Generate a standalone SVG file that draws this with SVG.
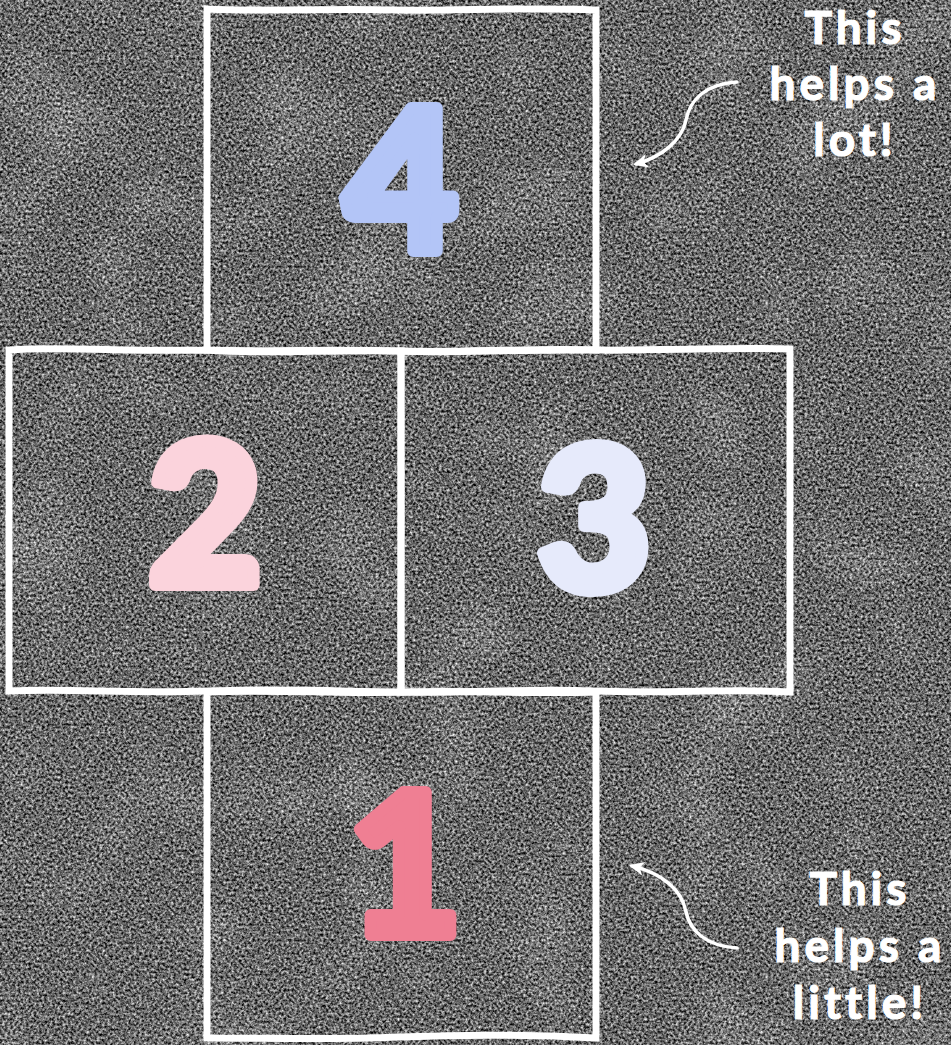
<svg xmlns="http://www.w3.org/2000/svg" width="951" height="1045" viewBox="0 0 951 1045">
  <defs>
    <filter id="asphalt" x="0" y="0" width="951" height="1045" filterUnits="userSpaceOnUse" color-interpolation-filters="sRGB">
      <feTurbulence type="fractalNoise" baseFrequency="0.38" numOctaves="3" seed="7" result="fine"/>
      <feColorMatrix in="fine" type="matrix" values="1.35 0 0 0 -0.27  1.35 0 0 0 -0.27  1.35 0 0 0 -0.27  0 0 0 0 1" result="fg"/>
      <feTurbulence type="fractalNoise" baseFrequency="0.012" numOctaves="2" seed="3" result="coarse"/>
      <feColorMatrix in="coarse" type="matrix" values="0.25 0 0 0 -0.125  0.25 0 0 0 -0.125  0.25 0 0 0 -0.125  0 0 0 0 1" result="cg"/>
      <feComposite in="fg" in2="cg" operator="arithmetic" k1="0" k2="1" k3="1" k4="0"/>
    </filter>
    <marker id="head" markerUnits="userSpaceOnUse" markerWidth="18" markerHeight="16" refX="12" refY="7" orient="auto">
      <path d="M0,0 L15,7 L0,14 L4,7 z" fill="#ffffff"/>
    </marker>
    <style>
      .box { fill: none; stroke: #ffffff; stroke-width: 7; stroke-linejoin: miter; }
      .num { font-family: "Lato", "Liberation Sans", sans-serif; font-weight: 900; text-anchor: middle; font-size: 196px; stroke-width: 12; stroke-linejoin: round; stroke-linecap: round; }
      .note { font-family: "Lato", "Liberation Sans", sans-serif; font-weight: 700; font-size: 46px; fill: #ffffff; stroke: #ffffff; stroke-width: 1.2; text-anchor: middle; letter-spacing: 4px; }
      .arrow { fill: none; stroke: #ffffff; stroke-width: 3.5; stroke-linecap: round; }
    </style>
  </defs>

  <rect x="0" y="0" width="951" height="1045" fill="#5e5e5e" filter="url(#asphalt)"/>

  <g id="box4">
    <path class="box" d="M207,9 C270,12 320,8 400,10 C460,11 520,7 596,10 L596,350 C520,348 460,353 400,351 C330,349 270,352 207,350 Z"/>
    <text class="num" x="401" y="251" fill="#b3c5f7" stroke="#b3c5f7">4</text>
  </g>
  <g id="box2">
    <path class="box" d="M9,350 C60,346 130,352 207,350 C270,355 330,349 401,351 L401,692 C330,691 280,688 207,691 C130,694 70,688 9,691 Z"/>
    <text class="num" x="205" y="585" fill="#fbd3dc" stroke="#fbd3dc">2</text>
  </g>
  <g id="box3">
    <path class="box" d="M401,351 C450,354 500,349 596,350 C660,351 720,347 790,349 L790,692 C730,688 670,694 596,691 C520,688 460,694 401,692 Z"/>
    <text class="num" x="594" y="589" fill="#e6eafb" stroke="#e6eafb">3</text>
  </g>
  <g id="box1">
    <path class="box" d="M207,692 C270,689 330,694 401,692 C470,690 530,694 596,692 L596,1038 C540,1035 480,1034 400,1037 C330,1040 270,1038 207,1038 Z"/>
    <text class="num" x="405" y="935" fill="#ef7f93" stroke="#ef7f93">1</text>
  </g>

  <g id="note-top">
    <text class="note" x="855" y="44">This</text>
    <text class="note" x="855" y="100">helps a</text>
    <text class="note" x="855" y="156">lot!</text>
  </g>
  <g id="note-bottom">
    <text class="note" x="860" y="905">This</text>
    <text class="note" x="860" y="962">helps a</text>
    <text class="note" x="860" y="1019">little!</text>
  </g>

  <g id="connectors">
    <path class="arrow" marker-end="url(#head)" d="M737,82 C705,84 690,100 686,120 C682,140 662,157 636,164"/>
    <path class="arrow" marker-end="url(#head)" d="M737,948 C705,946 690,930 686,912 C682,890 662,873 632,866"/>
  </g>
</svg>
